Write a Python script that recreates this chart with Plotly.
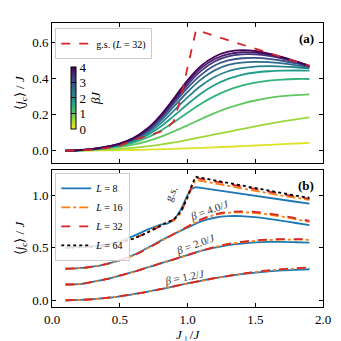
import plotly.graph_objects as go
from plotly.subplots import make_subplots
from plotly.colors import sample_colorscale

# ---- panel (a): finite temperature, L = 32 ----
jperp = [0.1, 0.2, 0.3, 0.4, 0.5, 0.6, 0.7, 0.8, 0.9, 1.0,
         1.1, 1.2, 1.3, 1.4, 1.5, 1.6, 1.7, 1.8, 1.9]

betas = [0.2, 0.6, 1.0, 1.4, 1.8, 2.2, 2.6, 3.0, 3.4, 3.7, 4.0]
jc_beta = [
    [0.0, 0.0, 0.001, 0.002, 0.003, 0.004, 0.006, 0.008, 0.01, 0.013, 0.016, 0.019, 0.022, 0.025, 0.029, 0.032, 0.036, 0.04, 0.044],
    [0.0, 0.001, 0.003, 0.006, 0.01, 0.016, 0.024, 0.034, 0.046, 0.06, 0.075, 0.09, 0.105, 0.12, 0.135, 0.149, 0.162, 0.174, 0.185],
    [0.0, 0.002, 0.006, 0.012, 0.021, 0.034, 0.052, 0.077, 0.107, 0.14, 0.175, 0.208, 0.237, 0.26, 0.278, 0.292, 0.302, 0.308, 0.312],
    [0.0, 0.002, 0.007, 0.015, 0.027, 0.045, 0.072, 0.11, 0.158, 0.21, 0.26, 0.302, 0.335, 0.36, 0.377, 0.388, 0.394, 0.397, 0.397],
    [0.0, 0.002, 0.008, 0.017, 0.031, 0.052, 0.085, 0.133, 0.193, 0.257, 0.317, 0.364, 0.398, 0.42, 0.433, 0.44, 0.443, 0.444, 0.443],
    [0.0, 0.003, 0.008, 0.018, 0.033, 0.057, 0.095, 0.15, 0.222, 0.295, 0.36, 0.408, 0.44, 0.457, 0.466, 0.468, 0.466, 0.462, 0.456],
    [0.0, 0.003, 0.009, 0.019, 0.035, 0.061, 0.102, 0.165, 0.245, 0.325, 0.395, 0.445, 0.475, 0.488, 0.492, 0.49, 0.483, 0.473, 0.462],
    [0.0, 0.003, 0.009, 0.02, 0.037, 0.064, 0.108, 0.176, 0.262, 0.348, 0.42, 0.472, 0.5, 0.512, 0.514, 0.509, 0.498, 0.483, 0.465],
    [0.0, 0.003, 0.009, 0.02, 0.038, 0.066, 0.113, 0.184, 0.274, 0.365, 0.442, 0.494, 0.522, 0.533, 0.533, 0.525, 0.51, 0.49, 0.467],
    [0.0, 0.003, 0.01, 0.021, 0.039, 0.068, 0.117, 0.19, 0.283, 0.378, 0.457, 0.508, 0.535, 0.545, 0.543, 0.532, 0.515, 0.493, 0.469],
    [0.0, 0.003, 0.01, 0.022, 0.04, 0.07, 0.12, 0.195, 0.29, 0.39, 0.47, 0.52, 0.548, 0.557, 0.552, 0.538, 0.518, 0.495, 0.47],
]

gs_x_a = [0.1, 0.2, 0.3, 0.4, 0.5, 0.6, 0.7, 0.8, 0.85, 0.9, 0.95, 1.0, 1.063, 1.9]
gs_a = [0.0, 0.002, 0.006, 0.014, 0.027, 0.06, 0.08, 0.105, 0.125, 0.165, 0.29, 0.46, 0.668, 0.47]

# ---- panel (b): size dependence ----
gs_x = [0.1, 0.2, 0.3, 0.4, 0.5, 0.6, 0.7, 0.8, 0.85, 0.9, 0.95, 1.0, 1.03, 1.06,
        1.1, 1.2, 1.3, 1.4, 1.5, 1.6, 1.7, 1.8, 1.9]
gs_L8 = [0.5, 0.503, 0.512, 0.53, 0.56, 0.61, 0.67, 0.72, 0.73, 0.76, 0.86, 1.0, 1.06, 1.075,
         1.07, 1.05, 1.03, 1.01, 0.99, 0.97, 0.955, 0.937, 0.92]
gs_L16 = [0.5, 0.502, 0.51, 0.525, 0.55, 0.585, 0.645, 0.715, 0.745, 0.76, 0.83, 0.97, 1.07, 1.145,
          1.135, 1.115, 1.09, 1.065, 1.04, 1.017, 0.995, 0.975, 0.955]
gs_L32 = [0.5, 0.502, 0.51, 0.525, 0.55, 0.585, 0.64, 0.705, 0.74, 0.77, 0.835, 0.98, 1.08, 1.165,
          1.155, 1.13, 1.105, 1.08, 1.055, 1.032, 1.01, 0.988, 0.965]
gs_L64 = [0.5, 0.502, 0.51, 0.525, 0.55, 0.585, 0.64, 0.71, 0.74, 0.77, 0.84, 0.98, 1.09, 1.175,
          1.165, 1.14, 1.115, 1.09, 1.065, 1.04, 1.017, 0.995, 0.975]

b40_L8 = [0.3, 0.305, 0.32, 0.345, 0.382, 0.43, 0.495, 0.565, 0.63, 0.69, 0.75, 0.785, 0.8, 0.8, 0.79, 0.775, 0.755, 0.735, 0.715]
b40_L16 = [0.3, 0.305, 0.32, 0.345, 0.38, 0.425, 0.49, 0.56, 0.63, 0.70, 0.765, 0.81, 0.832, 0.836, 0.83, 0.815, 0.795, 0.77, 0.745]
b40_L32 = [0.3, 0.305, 0.32, 0.345, 0.38, 0.425, 0.49, 0.56, 0.63, 0.70, 0.77, 0.815, 0.84, 0.845, 0.84, 0.825, 0.805, 0.78, 0.755]

b20_L8 = [0.15, 0.153, 0.175, 0.2, 0.235, 0.27, 0.31, 0.35, 0.39, 0.43, 0.47, 0.5, 0.525, 0.54, 0.55, 0.555, 0.555, 0.552, 0.548]
b20_L16 = [0.15, 0.153, 0.175, 0.2, 0.235, 0.27, 0.31, 0.35, 0.39, 0.43, 0.47, 0.505, 0.533, 0.552, 0.565, 0.573, 0.577, 0.577, 0.575]
b20_L32 = [0.15, 0.153, 0.175, 0.2, 0.235, 0.27, 0.31, 0.35, 0.39, 0.43, 0.47, 0.505, 0.535, 0.555, 0.57, 0.578, 0.582, 0.582, 0.58]

b12_L8 = [0.0, 0.003, 0.01, 0.022, 0.038, 0.058, 0.08, 0.105, 0.133, 0.16, 0.185, 0.21, 0.23, 0.248, 0.262, 0.275, 0.284, 0.29, 0.295]
b12_L16 = [0.0, 0.003, 0.01, 0.022, 0.038, 0.058, 0.08, 0.105, 0.133, 0.16, 0.185, 0.21, 0.232, 0.251, 0.268, 0.282, 0.294, 0.302, 0.309]
b12_L32 = [0.0, 0.003, 0.01, 0.022, 0.038, 0.058, 0.08, 0.105, 0.133, 0.16, 0.185, 0.21, 0.232, 0.252, 0.27, 0.285, 0.297, 0.305, 0.312]

BLUE, ORANGE, RED, BLACK = "#1f77b4", "#ff7f0e", "#d62728", "black"
FONT = "Liberation Serif"
LW = 1.8

fig = make_subplots(rows=2, cols=1, shared_xaxes=True, vertical_spacing=0.02)

# panel (a)
for b, vals in zip(betas, jc_beta):
    col = sample_colorscale("Viridis", [1 - b / 4.0])[0]
    fig.add_trace(go.Scatter(x=jperp, y=vals, mode="lines", line=dict(color=col, width=LW, shape="spline"),
                             showlegend=False), row=1, col=1)
fig.add_trace(go.Scatter(x=gs_x_a, y=gs_a, mode="lines", line=dict(color=RED, width=LW, dash="dash"),
                         name="g.s. (<i>L</i> = 32)", legend="legend"), row=1, col=1)
# colorbar carrier
fig.add_trace(go.Scatter(x=[None], y=[None], mode="markers", showlegend=False,
                         marker=dict(color=[0], cmin=0, cmax=4, colorscale="Viridis_r", showscale=True,
                                     colorbar=dict(x=0.033, xanchor="left", y=0.736, yanchor="middle",
                                                   len=0.289, thickness=5, outlinewidth=1, outlinecolor="black",
                                                   tickvals=[0, 1, 2, 3, 4], ticks="inside", ticklen=5,
                                                   tickcolor="black", tickfont=dict(size=13, family=FONT),
                                                   title=dict(text="<i>βJ</i>", side="right",
                                                              font=dict(size=13, family=FONT))))),
              row=1, col=1)

# panel (b)
styles = [("<i>L</i> = 8", BLUE, "solid"), ("<i>L</i> = 16", ORANGE, "dashdot"),
          ("<i>L</i> = 32", RED, "dash"), ("<i>L</i> = 64", BLACK, "dot")]
for (name, col, dash), vals in zip(styles, [gs_L8, gs_L16, gs_L32, gs_L64]):
    fig.add_trace(go.Scatter(x=gs_x, y=vals, mode="lines", name=name, legend="legend2",
                             line=dict(color=col, width=LW, dash=dash)), row=2, col=1)
for group in [(b40_L8, b40_L16, b40_L32), (b20_L8, b20_L16, b20_L32), (b12_L8, b12_L16, b12_L32)]:
    for (name, col, dash), vals in zip(styles[:3], group):
        fig.add_trace(go.Scatter(x=jperp, y=vals, mode="lines", showlegend=False,
                                 line=dict(color=col, width=LW, dash=dash, shape="spline")), row=2, col=1)

axis_style = dict(showline=True, linecolor="black", linewidth=1, mirror="ticks", ticks="inside",
                  ticklen=4, tickcolor="black", showgrid=False, zeroline=False, automargin=False,
                  tickfont=dict(size=13, family=FONT, color="black"))
fig.update_xaxes(axis_style)
fig.update_yaxes(axis_style)
fig.update_xaxes(range=[0, 2], dtick=0.5, tickformat=".1f")
fig.update_xaxes(showticklabels=False, row=1, col=1)
fig.update_yaxes(range=[-0.068, 0.707], tickvals=[0, 0.2, 0.4, 0.6], tickformat=".1f",
                 title=dict(text="⟨<i>j</i><sub>c</sub>⟩ / <i>J</i>", standoff=4, font=dict(size=13, family=FONT)),
                 row=1, col=1)
fig.update_yaxes(range=[-0.064, 1.238], tickvals=[0, 0.5, 1.0], tickformat=".1f",
                 title=dict(text="⟨<i>j</i><sub>c</sub>⟩ / <i>J</i>", standoff=4, font=dict(size=13, family=FONT)),
                 row=2, col=1)

ann_font = dict(size=11, family=FONT, color="#333333")
annotations = [
    dict(text="<i>J</i><sub>⊥</sub>/<i>J</i>", x=0.5, y=-0.1, xref="paper", yref="paper",
         xanchor="center", yanchor="middle", showarrow=False, font=dict(size=13, family=FONT)),
    dict(text="<b>(a)</b>", x=0.975, y=0.96, xref="x domain", yref="y domain", xanchor="right", yanchor="top",
         showarrow=False, font=dict(size=13, family=FONT)),
    dict(text="<b>(b)</b>", x=0.975, y=0.96, xref="x2 domain", yref="y2 domain", xanchor="right", yanchor="top",
         showarrow=False, font=dict(size=13, family=FONT)),
    dict(text="g.s.", x=0.88, y=1.02, xref="x2", yref="y2", textangle=-65, showarrow=False, font=ann_font),
    dict(text="<i>β</i> = 4.0/<i>J</i>", x=1.16, y=0.855, xref="x2", yref="y2", textangle=-20,
         showarrow=False, font=ann_font),
    dict(text="<i>β</i> = 2.0/<i>J</i>", x=1.06, y=0.535, xref="x2", yref="y2", textangle=-20,
         showarrow=False, font=ann_font),
    dict(text="<i>β</i> = 1.2/<i>J</i>", x=0.98, y=0.225, xref="x2", yref="y2", textangle=-11,
         showarrow=False, font=ann_font),
]

legend_style = dict(bgcolor="rgba(255,255,255,0.85)", bordercolor="#cccccc", borderwidth=1,
                    font=dict(size=10, family=FONT), itemwidth=30, xanchor="left", yanchor="top")

# the page body adds an 8 px offset, so the margins are shifted to compensate
fig.update_layout(
    width=341, height=341,
    margin=dict(l=44, r=26, t=15, b=42),
    plot_bgcolor="white", paper_bgcolor="white",
    font=dict(family=FONT, color="black"),
    annotations=annotations,
    legend=dict(legend_style, x=0.012, y=0.982),
    legend2=dict(legend_style, x=0.012, y=0.472, tracegroupgap=0),
)
fig.layout.yaxis.domain = [0.507, 1.0]
fig.layout.yaxis2.domain = [0.0, 0.482]

fig.write_html("out.html")
